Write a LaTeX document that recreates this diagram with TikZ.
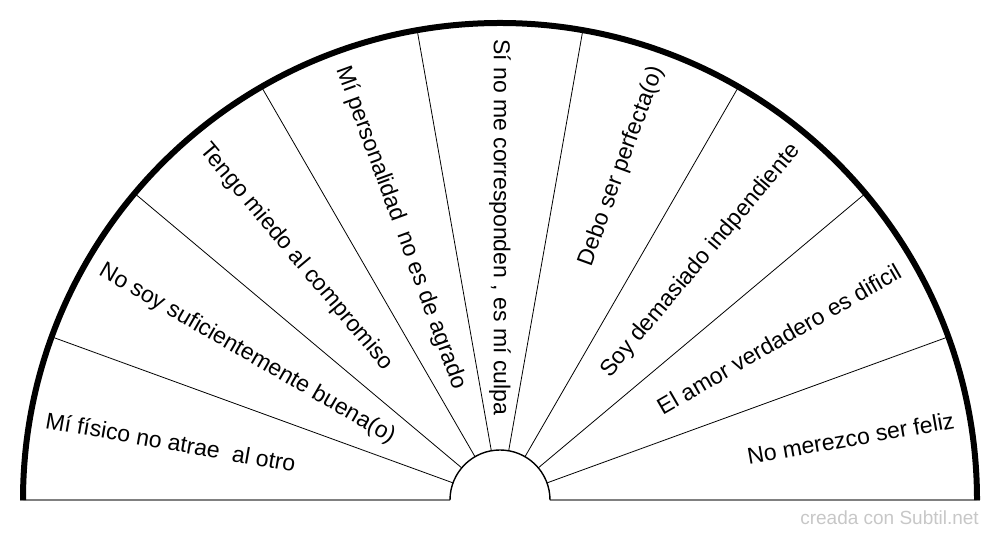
\documentclass[tikz,border=0pt]{standalone}
\usepackage{fontspec}
\setmainfont{Liberation Sans}
\begin{document}
\begin{tikzpicture}[x=1pt,y=1pt,
	every node/.style={inner sep=0,font=\fontsize{23}{27}\selectfont},
	spoke/.style={line width=0.8pt},
	rim/.style={line width=6pt},
	hub/.style={line width=1.4pt},
	floor/.style={line width=2.4pt,black!50},
	leftlabel/.style={anchor=west,rotate=#1+180},
	rightlabel/.style={anchor=east,rotate=#1}]
\useasboundingbox (0,0) rectangle (1000,540);
\begin{scope}[shift={(500,40)}]
\coordinate (c) at (0,0);
\draw[floor] (-480,0) -- (-50,0);
\draw[floor] (50,0) -- (480,0);
\foreach \a in {20,40,...,160}
	\draw[spoke] (\a:50) -- (\a:477);
\draw[hub] (-50,0) arc (180:0:50);
\draw[rim] (-477,0) arc (180:0:477);
\foreach \a/\t in {170/{Mí físico no atrae~ al otro},
	150/{No soy suficientemente buena(o)},
	130/{Tengo miedo al compromiso},
	110/{Mí personalidad~ no es de agrado},
	90/{Sí no me corresponden , es mí culpa}}
	\node[leftlabel=\a] (lab\a) at (\a:461) {\t};
\foreach \a/\t in {70/{Debo ser perfecta(o)},
	50/{Soy demasiado indpendiente},
	30/{El amor verdadero es dificil},
	10/{No merezco ser feliz}}
	\node[rightlabel=\a] (lab\a) at (\a:461) {\t};
\end{scope}
\node[font=\fontsize{19}{22}\selectfont,text=black!22,anchor=base east] (credit) at (979,15) {creada con Subtil.net};
\end{tikzpicture}
\end{document}
